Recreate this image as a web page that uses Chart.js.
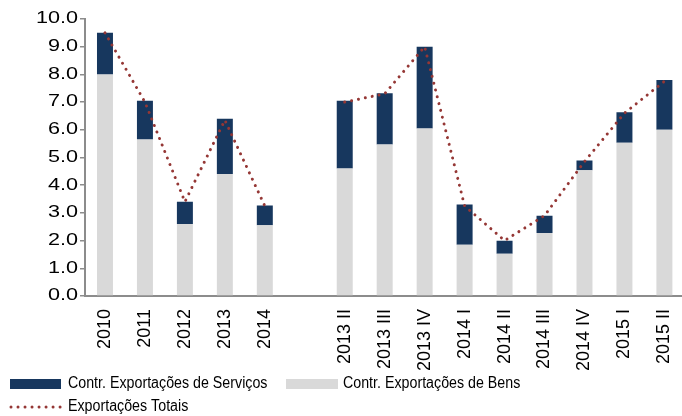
<!DOCTYPE html>
<html>
<head>
<meta charset="utf-8">
<script src="https://cdn.jsdelivr.net/npm/chart.js@4.4.0/dist/chart.umd.min.js"></script>
<style>
	html, body { margin: 0; padding: 0; background: #fff; overflow: hidden; }
	#wrap { width: 691px; height: 416px; position: relative; }
</style>
</head>
<body>
<div id="wrap"><canvas id="chart"></canvas></div>
<script>
// categories (empty slot separates annual and quarterly data)
const categories = ["2010", "2011", "2012", "2013", "2014", "", "2013 II", "2013 III", "2013 IV", "2014 I", "2014 II", "2014 III", "2014 IV", "2015 I", "2015 II"];
const bens = [8.0, 5.65, 2.6, 4.4, 2.55, null, 4.6, 5.47, 6.05, 1.85, 1.52, 2.27, 4.54, 5.53, 6.0];
const servicos = [1.5, 1.4, 0.8, 2.0, 0.72, null, 2.45, 1.85, 2.95, 1.45, 0.47, 0.63, 0.35, 1.1, 1.8];
const totais = [9.5, 7.0, 3.4, 6.35, 3.25, null, 7.0, 7.3, 9.0, 3.25, 2.0, 2.9, 4.85, 6.6, 7.75];
const yTicks = [0, 1, 2, 3, 4, 5, 6, 7, 8, 9, 10];

const NAVY = "#17375E";
const GREY = "#D9D9D9";
const RED = "#953735";
const AXIS = "#8c8c8c";
const FONT = "'Liberation Sans', Arial, sans-serif";

// draw text squeezed/stretched horizontally (reference fonts are not square)
function drawText(ctx, text, x, y, sx, align) {
	ctx.save();
	ctx.translate(x, y);
	ctx.scale(sx, 1);
	ctx.textAlign = align;
	ctx.fillText(text, 0, 0);
	ctx.restore();
}

// y tick labels, placed with the y scale
const yLabelPlugin = {
	id: "yLabels",
	afterDraw(chart) {
		const ctx = chart.ctx;
		const y = chart.scales.y;
		ctx.save();
		ctx.font = "16px " + FONT;
		ctx.textBaseline = "middle";
		ctx.fillStyle = "#000";
		yTicks.forEach((v) => {
			drawText(ctx, v.toFixed(1), y.right - 7, y.getPixelForValue(v), 1.35, "right");
		});
		ctx.restore();
	},
};

// legend drawn by hand so the dotted line sample looks right
const legendPlugin = {
	id: "customLegend",
	afterDraw(chart) {
		const ctx = chart.ctx;
		ctx.save();
		ctx.font = "16px " + FONT;
		ctx.textBaseline = "middle";
		ctx.fillStyle = NAVY;
		ctx.fillRect(10, 379, 51, 10);
		ctx.fillStyle = GREY;
		ctx.fillRect(286, 379, 52, 10);
		ctx.fillStyle = "#000";
		drawText(ctx, "Contr. Exportações de Serviços", 68, 384, 0.89, "left");
		drawText(ctx, "Contr. Exportações de Bens", 343, 384, 0.89, "left");
		drawText(ctx, "Exportações Totais", 68, 407, 0.89, "left");
		ctx.strokeStyle = RED;
		ctx.lineWidth = 3;
		ctx.lineCap = "round";
		ctx.setLineDash([0.01, 7]);
		ctx.beginPath();
		ctx.moveTo(11, 407);
		ctx.lineTo(61, 407);
		ctx.stroke();
		ctx.restore();
	},
};

new Chart(document.getElementById("chart"), {
	type: "bar",
	data: {
		labels: categories,
		datasets: [
			{
				type: "line",
				label: "Exportações Totais",
				data: totais,
				stack: "line",
				borderColor: RED,
				borderWidth: 3,
				borderDash: [0.01, 7],
				borderCapStyle: "round",
				pointRadius: 0,
				tension: 0,
				spanGaps: false,
				fill: false,
			},
			{
				label: "Contr. Exportações de Bens",
				data: bens,
				stack: "bars",
				backgroundColor: GREY,
				barPercentage: 0.4,
				categoryPercentage: 1,
			},
			{
				label: "Contr. Exportações de Serviços",
				data: servicos,
				stack: "bars",
				backgroundColor: NAVY,
				barPercentage: 0.4,
				categoryPercentage: 1,
			},
		],
	},
	options: {
		responsive: true,
		maintainAspectRatio: false,
		animation: false,
		devicePixelRatio: 1,
		layout: { padding: { left: 80, right: 0, top: 19, bottom: 40 } },
		plugins: {
			legend: { display: false },
			tooltip: { enabled: false },
		},
		scales: {
			x: {
				stacked: true,
				grid: { display: false },
				border: { display: true, color: AXIS, width: 2 },
				ticks: {
					autoSkip: false,
					maxRotation: 90,
					minRotation: 90,
					padding: 5,
					color: "#000",
					font: { family: FONT, size: 18 },
				},
			},
			y: {
				stacked: true,
				min: 0,
				max: 10,
				afterBuildTicks: (axis) => {
					axis.ticks = yTicks.map((v) => ({ value: v }));
				},
				grid: {
					drawOnChartArea: false,
					drawTicks: true,
					tickLength: 5,
					color: AXIS,
					lineWidth: 1.5,
				},
				border: { display: true, color: AXIS, width: 2 },
				ticks: { display: false },
			},
		},
	},
	plugins: [yLabelPlugin, legendPlugin],
});
</script>
</body>
</html>
